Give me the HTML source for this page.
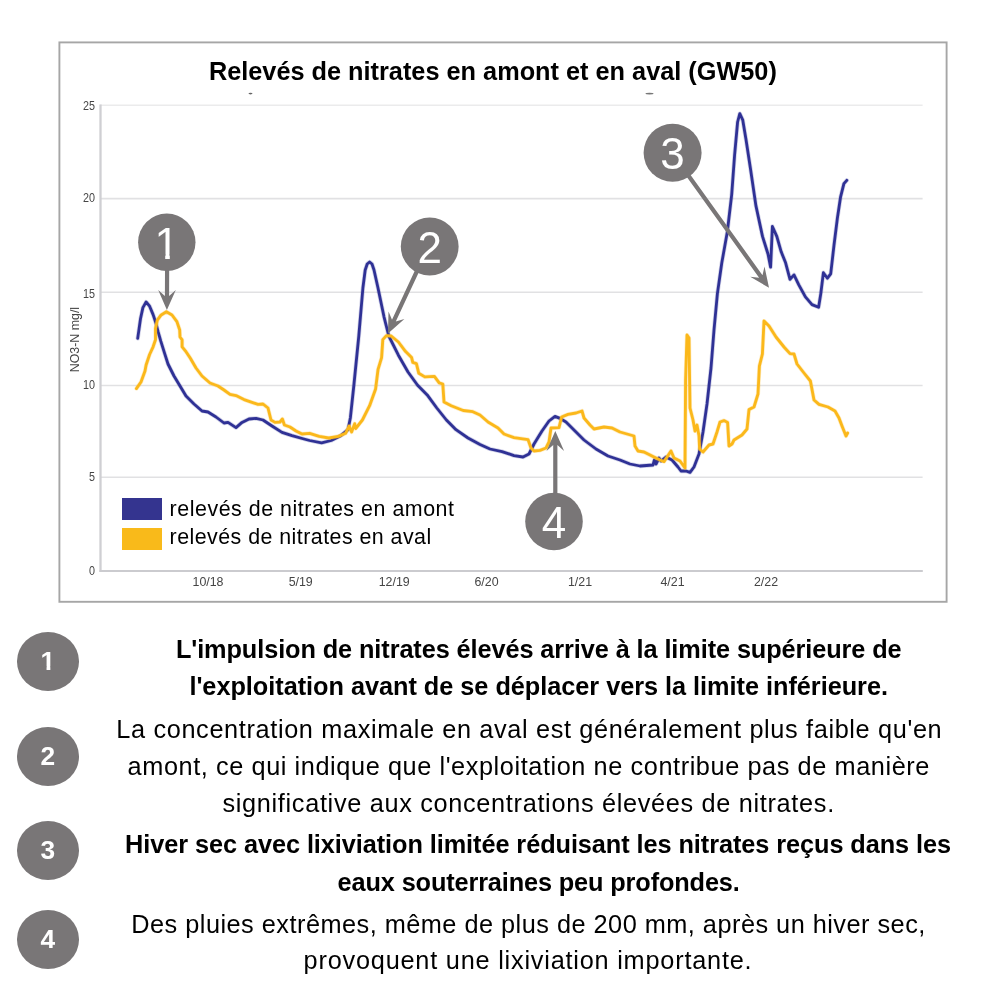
<!DOCTYPE html>
<html lang="fr">
<head>
<meta charset="utf-8">
<title>Relevés de nitrates en amont et en aval (GW50)</title>
<style>
html,body{margin:0;padding:0;background:#fff;}
body{width:1000px;height:1000px;position:relative;overflow:hidden;font-family:"Liberation Sans",sans-serif;color:#000;}
.chart{position:absolute;left:0;top:0;}
.tick{font-family:"Liberation Sans",sans-serif;font-size:12.4px;fill:#454545;}
.mk{font-family:"Liberation Sans",sans-serif;font-size:44px;fill:#fff;}
h1{position:absolute;margin:0;white-space:nowrap;font-weight:bold;line-height:1;}
.legend{position:absolute;left:0;top:0;margin:0;padding:0;list-style:none;}
.legend li{position:absolute;white-space:nowrap;line-height:1;}
.legend i{position:absolute;display:block;}
.notes{position:absolute;left:0;top:0;margin:0;padding:0;list-style:none;}
.notes .num{position:absolute;left:16.6px;width:62.4px;height:59px;border-radius:50%;background:#797677;color:#fff;font-weight:bold;font-size:26.3px;line-height:59px;text-align:center;}
.notes .num span{display:block;width:100%;height:100%;}
.notes .num .d1{clip-path:polygon(0 0,100% 0,100% 34.5px,33.75px 34.5px,33.75px 100%,29.95px 100%,29.95px 34.5px,0 34.5px);}
.notes .ln{position:absolute;white-space:nowrap;line-height:1;}
.notes b.ln{font-weight:bold;}
</style>
</head>
<body>

<svg class="chart" width="1000" height="620" viewBox="0 0 1000 620">
<rect x="59.4" y="42.4" width="887.2" height="559.4" fill="#fff" stroke="#a6a6a6" stroke-width="1.9"/>
<g class="plot">
<defs><clipPath id="one"><rect x="150" y="220" width="35" height="34"/><rect x="165.2" y="253.8" width="4.6" height="6"/></clipPath></defs>
<line x1="100" y1="105.3" x2="922.6" y2="105.3" stroke="#ebebec" stroke-width="1.6"/>
<line x1="100" y1="198.6" x2="922.6" y2="198.6" stroke="#e1e1e3" stroke-width="1.6"/>
<line x1="100" y1="292.2" x2="922.6" y2="292.2" stroke="#e1e1e3" stroke-width="1.6"/>
<line x1="100" y1="385.5" x2="922.6" y2="385.5" stroke="#e1e1e3" stroke-width="1.6"/>
<line x1="100" y1="477.2" x2="922.6" y2="477.2" stroke="#e1e1e3" stroke-width="1.6"/>
<line x1="100.5" y1="104.4" x2="100.5" y2="572" stroke="#cfcfd3" stroke-width="2.3"/>
<line x1="99.4" y1="571" x2="922.8" y2="571" stroke="#cbcbcf" stroke-width="2"/>
<ellipse cx="250.5" cy="93.6" rx="2" ry="0.8" fill="#666"/><ellipse cx="649.5" cy="93.6" rx="4" ry="0.9" fill="#777"/>
<text x="95.1" y="109.6" text-anchor="end" class="tick" textLength="12.0" lengthAdjust="spacingAndGlyphs">25</text>
<text x="95.1" y="202.3" text-anchor="end" class="tick" textLength="12.0" lengthAdjust="spacingAndGlyphs">20</text>
<text x="95.1" y="297.8" text-anchor="end" class="tick" textLength="12.0" lengthAdjust="spacingAndGlyphs">15</text>
<text x="95.1" y="388.9" text-anchor="end" class="tick" textLength="12.0" lengthAdjust="spacingAndGlyphs">10</text>
<text x="95.1" y="481.0" text-anchor="end" class="tick" textLength="6.0" lengthAdjust="spacingAndGlyphs">5</text>
<text x="95.1" y="575.1" text-anchor="end" class="tick" textLength="6.0" lengthAdjust="spacingAndGlyphs">0</text>
<text x="208" y="586.3" text-anchor="middle" class="tick">10/18</text>
<text x="300.7" y="586.3" text-anchor="middle" class="tick">5/19</text>
<text x="394.2" y="586.3" text-anchor="middle" class="tick">12/19</text>
<text x="486.5" y="586.3" text-anchor="middle" class="tick">6/20</text>
<text x="580" y="586.3" text-anchor="middle" class="tick">1/21</text>
<text x="672.5" y="586.3" text-anchor="middle" class="tick">4/21</text>
<text x="766" y="586.3" text-anchor="middle" class="tick">2/22</text>
<text transform="translate(79.3 339.6) rotate(-90)" text-anchor="middle" class="tick ylab">NO3-N mg/l</text>
<polyline points="137.7,338.4 139.1,328.6 140.5,318.8 142.9,307.6 146.1,302.0 149.6,306.2 153.1,314.6 155.9,323.0 158.0,331.4 160.8,341.2 164.3,352.4 168.0,364.0 174.0,376.0 180.0,386.0 186.0,396.0 194.0,404.0 202.0,411.0 208.0,412.0 216.0,417.0 224.0,423.0 228.0,422.4 236.0,427.6 242.0,422.4 249.0,419.0 256.0,418.4 263.0,420.0 272.0,426.0 282.0,432.4 292.0,435.6 304.0,439.0 309.6,440.5 321.6,442.9 331.2,440.5 340.8,435.7 348.0,429.7 350.4,417.7 354.0,384.0 358.8,336.0 362.9,288.0 365.2,270.0 367.2,264.0 369.6,262.0 372.0,264.0 374.0,270.0 378.0,288.0 384.0,316.8 388.8,336.0 398.4,355.2 408.0,372.0 417.6,385.2 427.2,394.9 436.8,408.0 446.4,420.0 456.0,429.7 468.0,438.0 480.0,444.5 490.0,449.0 502.0,451.6 514.0,455.6 523.0,457.0 529.0,454.0 534.0,444.0 542.0,431.0 549.0,421.0 555.0,416.4 560.0,418.4 566.0,422.0 574.0,430.0 584.0,440.0 596.0,449.0 608.0,456.0 620.0,460.0 630.0,464.0 640.0,466.0 653.0,465.0 654.4,460.0 656.0,464.0 659.0,458.0 661.0,461.0 666.0,457.0 672.0,460.0 678.0,467.0 681.0,471.0 686.0,471.0 690.0,472.4 694.0,467.0 699.0,454.0 703.0,432.0 707.0,404.0 711.0,368.0 714.0,330.0 717.4,293.6 721.8,262.8 727.3,232.0 731.7,194.6 734.6,155.0 737.6,122.0 739.8,113.6 742.7,119.8 746.0,139.6 750.4,168.2 755.9,205.6 762.5,236.4 768.0,254.0 770.6,267.2 772.4,226.5 776.8,236.4 781.2,251.8 785.6,262.8 790.0,279.3 794.0,274.9 798.8,284.8 805.4,296.9 812.0,304.6 818.6,307.3 820.8,293.6 823.4,272.7 827.4,278.2 830.7,273.8 834.0,245.2 837.3,218.8 840.6,196.8 843.9,183.6 846.8,180.3" fill="none" stroke="#2f3195" stroke-opacity="0.22" stroke-width="4.3" stroke-linejoin="round" stroke-linecap="round"/>
<polyline points="137.7,338.4 139.1,328.6 140.5,318.8 142.9,307.6 146.1,302.0 149.6,306.2 153.1,314.6 155.9,323.0 158.0,331.4 160.8,341.2 164.3,352.4 168.0,364.0 174.0,376.0 180.0,386.0 186.0,396.0 194.0,404.0 202.0,411.0 208.0,412.0 216.0,417.0 224.0,423.0 228.0,422.4 236.0,427.6 242.0,422.4 249.0,419.0 256.0,418.4 263.0,420.0 272.0,426.0 282.0,432.4 292.0,435.6 304.0,439.0 309.6,440.5 321.6,442.9 331.2,440.5 340.8,435.7 348.0,429.7 350.4,417.7 354.0,384.0 358.8,336.0 362.9,288.0 365.2,270.0 367.2,264.0 369.6,262.0 372.0,264.0 374.0,270.0 378.0,288.0 384.0,316.8 388.8,336.0 398.4,355.2 408.0,372.0 417.6,385.2 427.2,394.9 436.8,408.0 446.4,420.0 456.0,429.7 468.0,438.0 480.0,444.5 490.0,449.0 502.0,451.6 514.0,455.6 523.0,457.0 529.0,454.0 534.0,444.0 542.0,431.0 549.0,421.0 555.0,416.4 560.0,418.4 566.0,422.0 574.0,430.0 584.0,440.0 596.0,449.0 608.0,456.0 620.0,460.0 630.0,464.0 640.0,466.0 653.0,465.0 654.4,460.0 656.0,464.0 659.0,458.0 661.0,461.0 666.0,457.0 672.0,460.0 678.0,467.0 681.0,471.0 686.0,471.0 690.0,472.4 694.0,467.0 699.0,454.0 703.0,432.0 707.0,404.0 711.0,368.0 714.0,330.0 717.4,293.6 721.8,262.8 727.3,232.0 731.7,194.6 734.6,155.0 737.6,122.0 739.8,113.6 742.7,119.8 746.0,139.6 750.4,168.2 755.9,205.6 762.5,236.4 768.0,254.0 770.6,267.2 772.4,226.5 776.8,236.4 781.2,251.8 785.6,262.8 790.0,279.3 794.0,274.9 798.8,284.8 805.4,296.9 812.0,304.6 818.6,307.3 820.8,293.6 823.4,272.7 827.4,278.2 830.7,273.8 834.0,245.2 837.3,218.8 840.6,196.8 843.9,183.6 846.8,180.3" fill="none" stroke="#2f3195" stroke-width="2.8" stroke-linejoin="round" stroke-linecap="round"/>
<polyline points="136.4,388.6 141.0,382.0 145.0,371.0 146.1,365.0 149.6,354.5 153.1,346.8 155.5,339.8 155.5,328.6 157.3,320.2 160.8,315.3 166.4,311.8 172.0,315.0 176.9,321.6 179.7,330.0 180.0,337.0 182.1,339.8 182.1,346.8 186.0,351.7 190.2,358.0 196.0,368.0 202.0,376.0 210.0,383.0 218.0,386.0 224.0,390.0 230.0,394.4 236.0,395.6 244.0,399.6 252.0,402.4 258.0,404.4 263.0,404.0 268.0,408.0 271.0,420.0 275.0,422.4 280.0,422.0 282.4,419.0 284.4,425.0 290.0,427.0 296.0,431.0 302.0,434.0 309.6,433.3 319.2,436.4 328.8,438.0 338.4,436.4 345.6,433.3 349.2,426.0 351.6,432.0 354.7,423.7 355.7,428.5 362.4,420.0 369.6,405.7 375.6,388.9 378.0,369.7 381.6,357.6 382.8,339.6 386.4,335.6 391.2,336.0 398.4,342.0 405.6,351.6 411.6,357.6 412.8,362.4 416.4,363.6 418.8,373.3 424.8,376.9 434.4,376.4 439.2,382.9 442.8,384.0 444.0,402.0 451.2,405.7 463.2,410.5 472.8,411.7 480.0,415.0 488.0,422.0 498.0,428.0 504.0,434.0 514.0,437.6 528.0,439.6 531.0,448.0 534.0,451.0 540.0,450.4 546.0,448.0 549.0,442.0 551.0,428.0 559.0,427.6 561.6,417.0 568.0,414.4 576.0,413.0 582.0,411.0 584.0,418.0 590.0,425.0 594.0,429.0 604.0,427.0 612.0,428.0 620.0,432.0 634.0,436.0 635.0,446.0 638.0,451.0 644.0,452.0 652.0,456.0 660.0,460.0 664.0,461.6 671.0,451.0 674.0,458.0 680.0,461.0 685.0,468.0 685.6,380.0 687.0,335.0 689.0,338.0 690.0,408.0 693.0,420.0 695.0,431.0 697.0,425.0 699.0,436.0 699.6,449.0 703.0,452.0 709.0,445.0 713.0,444.0 717.0,432.0 720.0,422.0 724.0,420.6 727.6,422.4 729.0,446.0 732.0,444.0 734.0,440.0 742.0,435.0 747.0,429.0 749.0,409.6 754.0,407.0 758.0,394.0 759.4,366.0 762.4,354.0 764.0,321.0 769.0,326.0 776.0,337.0 784.0,347.0 790.0,353.6 794.0,354.0 797.0,364.0 804.0,373.0 810.4,381.0 814.0,400.0 819.0,404.4 828.0,407.0 835.0,411.0 839.0,418.0 842.0,426.0 846.0,436.0 847.6,433.0" fill="none" stroke="#fbb81b" stroke-opacity="0.25" stroke-width="4.2" stroke-linejoin="round" stroke-linecap="round"/>
<polyline points="136.4,388.6 141.0,382.0 145.0,371.0 146.1,365.0 149.6,354.5 153.1,346.8 155.5,339.8 155.5,328.6 157.3,320.2 160.8,315.3 166.4,311.8 172.0,315.0 176.9,321.6 179.7,330.0 180.0,337.0 182.1,339.8 182.1,346.8 186.0,351.7 190.2,358.0 196.0,368.0 202.0,376.0 210.0,383.0 218.0,386.0 224.0,390.0 230.0,394.4 236.0,395.6 244.0,399.6 252.0,402.4 258.0,404.4 263.0,404.0 268.0,408.0 271.0,420.0 275.0,422.4 280.0,422.0 282.4,419.0 284.4,425.0 290.0,427.0 296.0,431.0 302.0,434.0 309.6,433.3 319.2,436.4 328.8,438.0 338.4,436.4 345.6,433.3 349.2,426.0 351.6,432.0 354.7,423.7 355.7,428.5 362.4,420.0 369.6,405.7 375.6,388.9 378.0,369.7 381.6,357.6 382.8,339.6 386.4,335.6 391.2,336.0 398.4,342.0 405.6,351.6 411.6,357.6 412.8,362.4 416.4,363.6 418.8,373.3 424.8,376.9 434.4,376.4 439.2,382.9 442.8,384.0 444.0,402.0 451.2,405.7 463.2,410.5 472.8,411.7 480.0,415.0 488.0,422.0 498.0,428.0 504.0,434.0 514.0,437.6 528.0,439.6 531.0,448.0 534.0,451.0 540.0,450.4 546.0,448.0 549.0,442.0 551.0,428.0 559.0,427.6 561.6,417.0 568.0,414.4 576.0,413.0 582.0,411.0 584.0,418.0 590.0,425.0 594.0,429.0 604.0,427.0 612.0,428.0 620.0,432.0 634.0,436.0 635.0,446.0 638.0,451.0 644.0,452.0 652.0,456.0 660.0,460.0 664.0,461.6 671.0,451.0 674.0,458.0 680.0,461.0 685.0,468.0 685.6,380.0 687.0,335.0 689.0,338.0 690.0,408.0 693.0,420.0 695.0,431.0 697.0,425.0 699.0,436.0 699.6,449.0 703.0,452.0 709.0,445.0 713.0,444.0 717.0,432.0 720.0,422.0 724.0,420.6 727.6,422.4 729.0,446.0 732.0,444.0 734.0,440.0 742.0,435.0 747.0,429.0 749.0,409.6 754.0,407.0 758.0,394.0 759.4,366.0 762.4,354.0 764.0,321.0 769.0,326.0 776.0,337.0 784.0,347.0 790.0,353.6 794.0,354.0 797.0,364.0 804.0,373.0 810.4,381.0 814.0,400.0 819.0,404.4 828.0,407.0 835.0,411.0 839.0,418.0 842.0,426.0 846.0,436.0 847.6,433.0" fill="none" stroke="#fbb81b" stroke-width="2.85" stroke-linejoin="round" stroke-linecap="round"/>
<polygon points="165.0,268.0 164.9,296.0 158.2,290.0 166.9,310.0 175.8,290.0 169.1,296.0 169.2,268.0" fill="#797677"/>
<circle cx="166.8" cy="242.3" r="28.7" fill="#797677"/>
<text x="166.8" y="258.6" text-anchor="middle" class="mk" clip-path="url(#one)">1</text>
<polygon points="415.6,269.1 392.0,319.8 388.5,311.6 388.0,333.4 404.4,319.0 395.8,321.6 419.4,270.9" fill="#797677"/>
<circle cx="429.7" cy="246.5" r="28.9" fill="#797677"/>
<text x="429.7" y="262.8" text-anchor="middle" class="mk">2</text>
<polygon points="686.3,176.2 759.1,277.7 750.2,276.7 769.0,287.8 764.5,266.4 762.5,275.2 689.7,173.8" fill="#797677"/>
<circle cx="672.6" cy="152.8" r="29.0" fill="#797677"/>
<text x="672.6" y="169.1" text-anchor="middle" class="mk">3</text>
<polygon points="557.4,495.0 557.4,445.0 564.1,451.0 555.3,431.0 546.5,451.0 553.2,445.0 553.2,495.0" fill="#797677"/>
<circle cx="554.0" cy="521.5" r="28.8" fill="#797677"/>
<text x="554.0" y="537.8" text-anchor="middle" class="mk">4</text>
</g>
</svg>
<h1 id="title" style="left:208.90px;top:59.08px;font-size:25.3px;letter-spacing:0.000px">Relevés de nitrates en amont et en aval (GW50)</h1>
<ul class="legend">
<li id="lg1" style="left:169.60px;top:498.88px;font-size:21.4px;letter-spacing:0.536px"><i style="left:-48.00px;top:-0.58px;width:40.9px;height:22.2px;background:#34348f"></i>relevés de nitrates en amont</li>
<li id="lg2" style="left:169.60px;top:526.98px;font-size:21.4px;letter-spacing:0.458px"><i style="left:-48.00px;top:0.72px;width:40.9px;height:22.7px;background:#f9ba1a"></i>relevés de nitrates en aval</li>
</ul>
<ol class="notes">
<li>
<span class="num" style="top:632.0px"><span class="d1">1</span></span>
<b class="ln" id="ln0" style="left:175.90px;top:637.08px;font-size:25.3px;letter-spacing:-0.092px">L'impulsion de nitrates élevés arrive à la limite supérieure de</b>
<b class="ln" id="ln1" style="left:189.40px;top:673.78px;font-size:25.3px;letter-spacing:-0.032px">l'exploitation avant de se déplacer vers la limite inférieure.</b>
</li>
<li>
<span class="num" style="top:726.8px"><span class="d2">2</span></span>
<span class="ln" id="ln2" style="left:116.30px;top:716.58px;font-size:25.3px;letter-spacing:0.640px">La concentration maximale en aval est généralement plus faible qu'en</span>
<span class="ln" id="ln3" style="left:127.60px;top:754.08px;font-size:25.3px;letter-spacing:0.581px">amont, ce qui indique que l'exploitation ne contribue pas de manière</span>
<span class="ln" id="ln4" style="left:222.40px;top:791.08px;font-size:25.3px;letter-spacing:0.678px">significative aux concentrations élevées de nitrates.</span>
</li>
<li>
<span class="num" style="top:821.0px"><span class="d3">3</span></span>
<b class="ln" id="ln5" style="left:125.10px;top:832.28px;font-size:25.3px;letter-spacing:-0.070px">Hiver sec avec lixiviation limitée réduisant les nitrates reçus dans les</b>
<b class="ln" id="ln6" style="left:337.60px;top:869.58px;font-size:25.3px;letter-spacing:-0.131px">eaux souterraines peu profondes.</b>
</li>
<li>
<span class="num" style="top:910.0px"><span class="d4">4</span></span>
<span class="ln" id="ln7" style="left:131.30px;top:911.58px;font-size:25.3px;letter-spacing:0.485px">Des pluies extrêmes, même de plus de 200 mm, après un hiver sec,</span>
<span class="ln" id="ln8" style="left:303.60px;top:947.88px;font-size:25.3px;letter-spacing:0.782px">provoquent une lixiviation importante.</span>
</li>
</ol>
</body>
</html>
